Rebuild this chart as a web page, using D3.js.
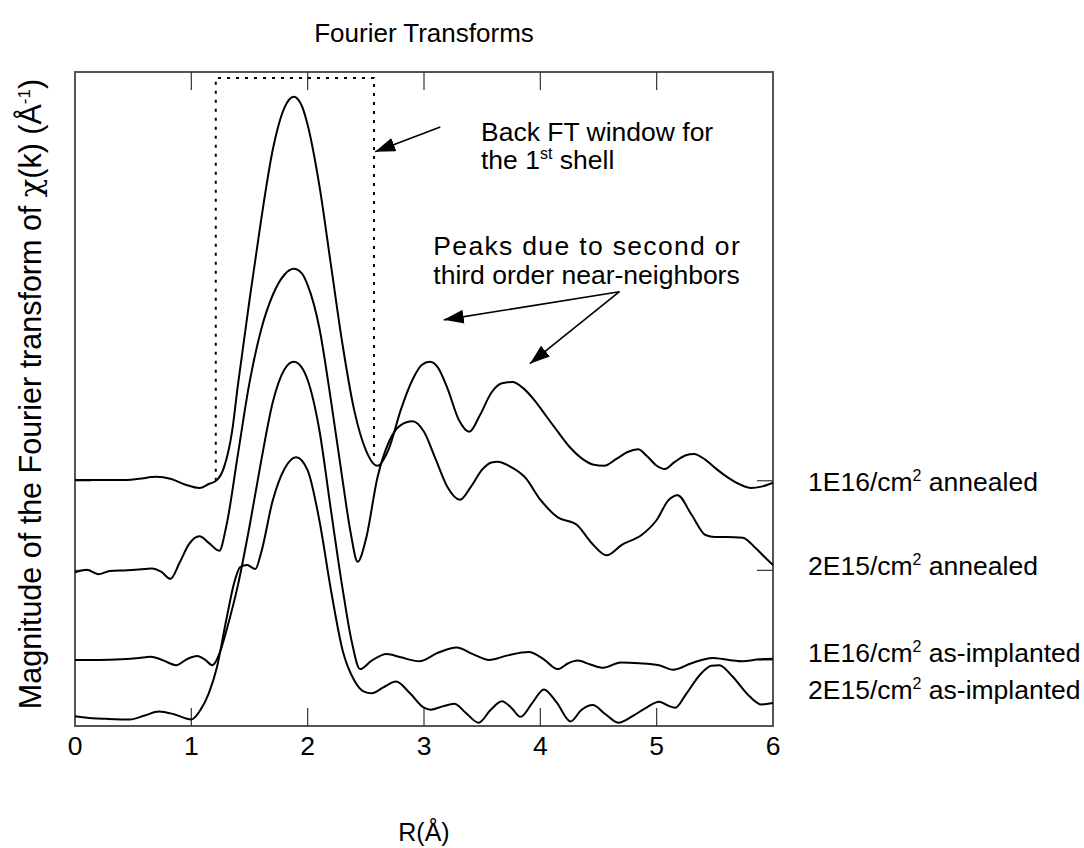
<!DOCTYPE html>
<html>
<head>
<meta charset="utf-8">
<script src="https://cdn.jsdelivr.net/npm/d3@7"></script>
<style>
  html, body { margin: 0; padding: 0; background: #fff; }
  text { font-family: "Liberation Sans", Arial, sans-serif; fill: #000; }
</style>
</head>
<body>
<svg id="chart" width="1084" height="848"></svg>
<script>
// Radial distances R (Å) and stacked FT magnitudes (arbitrary units, offsets included)
const seriesNames = [
  "1E16/cm² annealed",
  "2E15/cm² annealed",
  "1E16/cm² as-implanted",
  "2E15/cm² as-implanted"
];

const annealed1E16 = [[0,37.6],[0.2,37.6],[0.4,37.6],[0.55,37.8],[0.7,38.1],[0.82,37.8],[0.95,36.9],[1.07,36.4],[1.15,37.0],[1.22,37.6],[1.28,39.5],[1.35,45],[1.4,52.1],[1.5,65.1],[1.6,77.4],[1.7,88.1],[1.8,94.5],[1.88,96.2],[1.95,94.8],[2.0,91.9],[2.1,82.7],[2.2,70.5],[2.3,58.3],[2.4,48.3],[2.5,42.2],[2.6,39.8],[2.7,42.5],[2.8,48.3],[2.9,52.9],[2.98,55.2],[3.05,55.7],[3.12,54.8],[3.2,51.7],[3.3,46.8],[3.39,45.0],[3.48,47.5],[3.58,51.0],[3.67,52.4],[3.76,52.6],[3.85,51.7],[3.95,49.8],[4.05,47.4],[4.15,45.0],[4.25,42.7],[4.35,41.0],[4.45,40.0],[4.55,39.8],[4.65,40.8],[4.75,41.9],[4.84,42.3],[4.92,41.2],[5.0,39.8],[5.07,39.3],[5.15,40.3],[5.25,41.4],[5.32,41.6],[5.42,40.7],[5.52,39.2],[5.62,37.9],[5.72,36.9],[5.81,36.4],[5.9,36.6],[6.0,37.2]];

const annealed2E15 = [[0,23.5],[0.1,23.9],[0.2,23.2],[0.3,23.7],[0.45,23.8],[0.6,24.0],[0.66,24.1],[0.74,23.6],[0.82,22.5],[0.9,25.0],[0.98,27.8],[1.07,29.0],[1.15,28.0],[1.24,26.8],[1.3,30.5],[1.4,41.5],[1.5,52.5],[1.6,60.6],[1.7,65.9],[1.8,69.0],[1.88,69.9],[1.95,69.2],[2.0,67.4],[2.1,60.9],[2.2,49.8],[2.3,37.6],[2.37,29.5],[2.43,25.1],[2.5,28.5],[2.6,38.0],[2.7,43.5],[2.8,46.0],[2.9,46.6],[3.0,45.0],[3.1,40.8],[3.2,36.6],[3.31,34.6],[3.4,36.5],[3.5,39.2],[3.58,40.3],[3.63,40.4],[3.75,39.6],[3.87,38.0],[4.0,34.6],[4.15,31.9],[4.31,30.8],[4.45,27.8],[4.57,26.1],[4.7,27.7],[4.87,29.2],[5.0,31.5],[5.1,34.5],[5.18,35.3],[5.3,32.3],[5.42,29.2],[5.5,28.9],[5.6,28.9],[5.74,28.8],[5.85,27.2],[5.93,25.8],[6.0,24.6]];

const implanted1E16 = [[0,10.1],[0.2,10.1],[0.4,10.2],[0.55,10.4],[0.65,10.6],[0.75,10.1],[0.87,9.3],[0.96,10.2],[1.05,10.7],[1.12,10.1],[1.18,9.3],[1.25,11.5],[1.3,14.5],[1.4,21.5],[1.5,30.5],[1.6,40.5],[1.7,49.5],[1.8,54.5],[1.88,55.7],[1.95,54.8],[2.0,52.9],[2.1,45.3],[2.2,33.0],[2.3,21.0],[2.38,12.8],[2.45,8.7],[2.55,10.0],[2.68,11.0],[2.8,10.5],[2.96,9.9],[3.12,11.2],[3.28,12.0],[3.42,11.0],[3.56,10.1],[3.72,10.8],[3.9,11.3],[4.03,10.2],[4.15,8.7],[4.24,9.6],[4.32,10.0],[4.43,9.4],[4.54,8.9],[4.69,9.7],[4.85,9.6],[5.02,9.3],[5.14,8.6],[5.3,9.6],[5.48,10.4],[5.62,10.1],[5.74,9.9],[5.88,10.2],[6.0,10.3]];

const implanted2E15 = [[0,1.5],[0.15,1.2],[0.27,1.1],[0.47,1.0],[0.6,1.6],[0.72,2.2],[0.85,1.8],[1.0,1.0],[1.08,2.5],[1.15,5.0],[1.22,9.0],[1.3,16.2],[1.37,22.0],[1.42,24.3],[1.48,24.6],[1.55,24.0],[1.6,26.5],[1.7,34.5],[1.8,39.3],[1.9,41.1],[2.0,39.1],[2.1,31.5],[2.2,20.8],[2.3,11.6],[2.4,7.0],[2.48,5.3],[2.55,5.0],[2.65,5.9],[2.76,6.8],[2.88,5.0],[3.0,2.8],[3.06,2.5],[3.16,3.0],[3.26,3.4],[3.36,2.0],[3.47,0.5],[3.57,2.4],[3.67,3.8],[3.75,2.8],[3.83,1.4],[3.93,3.5],[4.03,5.6],[4.14,3.6],[4.26,0.7],[4.35,2.4],[4.45,3.2],[4.56,1.8],[4.67,0.5],[4.8,1.6],[4.92,2.9],[5.02,3.7],[5.1,3.1],[5.16,2.8],[5.25,4.8],[5.38,8.0],[5.47,9.2],[5.54,9.3],[5.65,7.6],[5.8,4.5],[5.9,3.3],[6.0,3.5]];

// Label anchor heights (same units) for the series names on the right
const seriesLabelY = [35.9, 23.1, 9.8, 4.1];

const xTicks = [0, 1, 2, 3, 4, 5, 6];
const yTicks = [10.1, 23.8, 37.5];

// Back-transform window (R range) for the first shell
const windowR = [1.21, 2.57];
const windowTop = 99.1;

const svg = d3.select("#chart");
const mLeft = 75, mRight = 773, mTop = 72, mBottom = 726;

const x = d3.scaleLinear().domain([0, 6]).range([mLeft, mRight]);
const y = d3.scaleLinear().domain([0, 100]).range([mBottom, mTop]);

const labelFont = "26.5px";
const supFont = "16px";

// Title
svg.append("text")
  .attr("x", (mLeft + mRight) / 2).attr("y", 42)
  .attr("text-anchor", "middle")
  .style("font-size", "26px")
  .text("Fourier Transforms");

// Frame
svg.append("rect")
  .attr("x", mLeft).attr("y", mTop)
  .attr("width", mRight - mLeft).attr("height", mBottom - mTop)
  .attr("fill", "none").attr("stroke", "#555").attr("stroke-width", 2);

const tickLen = 18;
const inner = xTicks.filter(d => d > 0 && d < 6);
// Bottom & top ticks point inward
svg.append("g").selectAll("line").data(inner).join("line")
  .attr("x1", d => x(d)).attr("x2", d => x(d))
  .attr("y1", mBottom).attr("y2", mBottom - tickLen)
  .attr("stroke", "#333").attr("stroke-width", 1.2);
svg.append("g").selectAll("line").data(inner).join("line")
  .attr("x1", d => x(d)).attr("x2", d => x(d))
  .attr("y1", mTop).attr("y2", mTop + tickLen)
  .attr("stroke", "#333").attr("stroke-width", 1.2);
// Left & right ticks
svg.append("g").selectAll("line").data(yTicks).join("line")
  .attr("x1", mLeft).attr("x2", mLeft + 16)
  .attr("y1", d => y(d)).attr("y2", d => y(d))
  .attr("stroke", "#333").attr("stroke-width", 1.2);
svg.append("g").selectAll("line").data(yTicks).join("line")
  .attr("x1", mRight).attr("x2", mRight - 16)
  .attr("y1", d => y(d)).attr("y2", d => y(d))
  .attr("stroke", "#333").attr("stroke-width", 1.2);

// X tick labels
svg.append("g").selectAll("text").data(xTicks).join("text")
  .attr("x", d => x(d)).attr("y", 755)
  .attr("text-anchor", "middle")
  .style("font-size", labelFont)
  .text(d => d);

// X axis title
svg.append("text")
  .attr("x", (mLeft + mRight) / 2).attr("y", 841)
  .attr("text-anchor", "middle")
  .style("font-size", "25px")
  .text("R(Å)");

// Y axis title (rotated)
const yl = svg.append("text")
  .attr("transform", `translate(41, 394) rotate(-90)`)
  .attr("text-anchor", "middle")
  .style("font-size", "30.5px");
yl.append("tspan").text("Magnitude of the Fourier transform of ");
yl.append("tspan").style("font-family", "'DejaVu Serif', serif").text("χ");
yl.append("tspan").text("(k) (Å");
yl.append("tspan").attr("dy", -11).style("font-size", "17px").text("-1");
yl.append("tspan").attr("dy", 11).text(")");

// Curves
const line = d3.line()
  .x(d => x(d[0])).y(d => y(d[1]))
  .curve(d3.curveMonotoneX);

const allSeries = [annealed1E16, annealed2E15, implanted1E16, implanted2E15];
svg.append("g").selectAll("path").data(allSeries).join("path")
  .attr("d", line)
  .attr("fill", "none")
  .attr("stroke", "#000")
  .attr("stroke-width", 2)
  .attr("stroke-linejoin", "round");

// Window box: open at the bottom, ending on the top curve
const bisect = d3.bisector(d => d[0]).left;
function valueAt(series, r) {
  const i = bisect(series, r);
  if (i <= 0) return series[0][1];
  if (i >= series.length) return series[series.length - 1][1];
  const a = series[i - 1], b = series[i];
  return a[1] + (b[1] - a[1]) * (r - a[0]) / (b[0] - a[0]);
}
const boxPath = d3.path();
boxPath.moveTo(x(windowR[0]), y(valueAt(annealed1E16, windowR[0])));
boxPath.lineTo(x(windowR[0]), y(windowTop));
boxPath.lineTo(x(windowR[1]), y(windowTop));
boxPath.lineTo(x(windowR[1]), y(valueAt(annealed1E16, windowR[1])));
svg.append("path")
  .attr("d", boxPath.toString())
  .attr("fill", "none")
  .attr("stroke", "#000")
  .attr("stroke-width", 2)
  .attr("stroke-dasharray", "3,6");

// Arrows
const defs = svg.append("defs");
defs.append("marker")
  .attr("id", "head")
  .attr("viewBox", "0 0 20 14")
  .attr("refX", 20).attr("refY", 7)
  .attr("markerWidth", 20).attr("markerHeight", 14)
  .attr("markerUnits", "userSpaceOnUse")
  .attr("orient", "auto")
  .append("path").attr("d", "M0,0 L20,7 L0,14 Z").attr("fill", "#000");

const arrows = [
  { from: [3.14, 91.6], to: [2.58, 87.8] },
  { from: [4.68, 66.4], to: [3.17, 62.1] },
  { from: [4.68, 66.4], to: [3.91, 55.4] }
];
svg.append("g").selectAll("line").data(arrows).join("line")
  .attr("x1", d => x(d.from[0])).attr("y1", d => y(d.from[1]))
  .attr("x2", d => x(d.to[0])).attr("y2", d => y(d.to[1]))
  .attr("stroke", "#000").attr("stroke-width", 1.6)
  .attr("marker-end", "url(#head)");

// Annotation text
svg.append("text").attr("x", x(3.49)).attr("y", y(89.4))
  .style("font-size", labelFont).text("Back FT window for");
const shell = svg.append("text").attr("x", x(3.49)).attr("y", y(85.1))
  .style("font-size", labelFont);
shell.append("tspan").text("the 1");
shell.append("tspan").attr("dy", -10).style("font-size", supFont).text("st");
shell.append("tspan").attr("dy", 10).text(" shell");

const l2 = svg.append("text").attr("x", x(3.08)).attr("y", y(67.6))
  .style("font-size", labelFont).text("third order near-neighbors");
const l1 = svg.append("text").attr("x", x(3.08)).attr("y", y(72.0))
  .style("font-size", labelFont).text("Peaks due to second or");
l1.attr("textLength", l2.node().getComputedTextLength()).attr("lengthAdjust", "spacing");

// Series labels on the right
const lab = svg.append("g").selectAll("text").data(seriesNames).join("text")
  .attr("x", 808).attr("y", (d, i) => y(seriesLabelY[i]))
  .style("font-size", labelFont);
lab.each(function(d) {
  const t = d3.select(this);
  const parts = d.split("²");
  t.append("tspan").text(parts[0]);
  t.append("tspan").attr("dy", -10).style("font-size", supFont).text("2");
  t.append("tspan").attr("dy", 10).text(parts[1]);
});
</script>
</body>
</html>
